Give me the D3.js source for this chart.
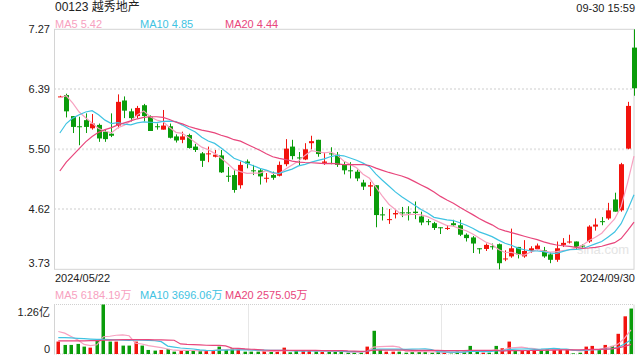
<!DOCTYPE html>
<html>
<head>
<meta charset="utf-8">
<script src="https://cdn.jsdelivr.net/npm/d3@7/dist/d3.min.js"></script>
<style>
  html, body { margin: 0; padding: 0; background: #fff; }
  svg { display: block; font-family: Arial, "Liberation Sans", "Noto Sans CJK SC", sans-serif; }
</style>
</head>
<body>
<div class="kline"></div>
<script>
// Daily candles 2024/05/22 - 2024/09/30
const opens = [6.28, 6.30, 5.99, 5.84, 5.93, 5.81, 5.86, 5.76, 5.73, 5.85,
  6.22, 6.06, 5.99, 6.15, 5.98, 5.84, 5.79, 5.84, 5.69, 5.64,
  5.71, 5.54, 5.44, 5.43, 5.39, 5.41, 5.11, 5.12, 4.97, 5.32,
  5.19, 5.19, 5.07, 5.12, 5.11, 5.28, 5.54, 5.38, 5.35, 5.59,
  5.64, 5.30, 5.44, 5.42, 5.28, 5.19, 5.17, 5.01, 4.95, 4.97,
  4.54, 4.46, 4.54, 4.57, 4.57, 4.58, 4.51, 4.44, 4.41, 4.35,
  4.33, 4.41, 4.38, 4.24, 4.20, 4.04, 4.03, 4.07, 4.10, 3.88,
  3.92, 4.06, 3.92, 4.00, 4.03, 4.01, 3.95, 3.87, 4.09, 4.13,
  4.14, 4.08, 4.14, 4.36, 4.44, 4.48, 4.76, 4.60, 5.51, 7.00];
const highs = [6.29, 6.32, 5.99, 5.98, 6.03, 6.02, 5.88, 5.79, 6.03, 6.31,
  6.28, 6.10, 6.14, 6.17, 6.00, 5.88, 6.08, 5.88, 5.72, 5.76,
  5.73, 5.58, 5.46, 5.54, 5.49, 5.49, 5.24, 5.19, 5.32, 5.35,
  5.27, 5.21, 5.15, 5.17, 5.32, 5.65, 5.64, 5.46, 5.59, 5.70,
  5.64, 5.45, 5.53, 5.46, 5.32, 5.31, 5.20, 5.05, 5.02, 4.97,
  4.65, 4.62, 4.62, 4.65, 4.66, 4.73, 4.58, 4.47, 4.43, 4.35,
  4.38, 4.46, 4.46, 4.26, 4.22, 4.04, 4.11, 4.11, 4.11, 4.01,
  4.33, 4.06, 4.16, 4.07, 4.11, 4.06, 3.98, 4.14, 4.19, 4.24,
  4.14, 4.10, 4.38, 4.48, 4.50, 4.71, 4.86, 5.30, 6.20, 7.27];
const lows = [6.27, 5.97, 5.74, 5.56, 5.74, 5.79, 5.61, 5.61, 5.68, 5.81,
  5.96, 5.91, 5.96, 5.91, 5.77, 5.79, 5.79, 5.66, 5.60, 5.59,
  5.51, 5.46, 5.24, 5.31, 5.38, 5.15, 5.02, 4.86, 4.92, 5.22,
  5.12, 4.98, 5.01, 5.05, 5.10, 5.25, 5.35, 5.26, 5.34, 5.50,
  5.39, 5.27, 5.28, 5.24, 5.13, 5.07, 5.03, 4.90, 4.81, 4.35,
  4.45, 4.40, 4.48, 4.50, 4.45, 4.47, 4.38, 4.38, 4.31, 4.25,
  4.31, 4.36, 4.22, 4.14, 3.97, 3.96, 4.00, 4.02, 3.73, 3.85,
  3.90, 3.89, 3.90, 3.97, 4.01, 3.90, 3.82, 3.84, 4.06, 4.11,
  4.02, 4.05, 4.12, 4.30, 4.38, 4.46, 4.58, 4.58, 5.50, 6.29];
const closes = [6.28, 6.06, 5.83, 5.83, 5.83, 5.88, 5.66, 5.65, 5.70, 6.20,
  6.07, 5.96, 6.11, 5.99, 5.77, 5.83, 5.85, 5.67, 5.63, 5.69,
  5.52, 5.49, 5.33, 5.44, 5.42, 5.16, 5.10, 4.90, 5.27, 5.29,
  5.18, 5.10, 5.08, 5.08, 5.27, 5.51, 5.40, 5.37, 5.50, 5.62,
  5.43, 5.32, 5.43, 5.27, 5.19, 5.18, 5.07, 4.95, 4.97, 4.53,
  4.53, 4.47, 4.56, 4.56, 4.56, 4.56, 4.42, 4.43, 4.34, 4.34,
  4.34, 4.38, 4.24, 4.19, 4.11, 4.03, 4.09, 4.06, 3.82, 3.89,
  4.04, 3.95, 4.00, 4.04, 4.08, 3.92, 3.87, 4.04, 4.12, 4.14,
  4.06, 4.07, 4.36, 4.39, 4.43, 4.60, 4.58, 5.28, 6.14, 6.40];
// Daily volume, unit 万
const volumes = [3160, 2310, 2310, 2570, 1880, 1620, 3340, 12600, 3160, 3160,
  2140, 2140, 3160, 2140, 1030, 860, 1030, 1290, 600, 860,
  860, 860, 860, 860, 860, 1880, 1030, 1460, 1200, 600,
  600, 600, 770, 600, 770, 1620, 430, 770, 770, 770,
  770, 600, 600, 600, 600, 340, 340, 340, 1880, 5910,
  1030, 600, 600, 600, 340, 770, 600, 600, 340, 600,
  340, 100, 600, 600, 2060, 600, 340, 340, 2060, 1460,
  3160, 1030, 1030, 770, 1030, 1030, 1200, 1460, 1030, 1030,
  170, 340, 1880, 2060, 1030, 2310, 2060, 5140, 9590, 11570];

// Moving average values at the left edge (window reaches before the first candle)
const ma5Head = [6.26, 6.29, 6.18, 6.05];
const ma10Head = [5.74, 5.88, 5.96, 6.01, 6.05, 6.07, 6.01, 5.93, 5.88];
const ma20Head = [5.18, 5.31, 5.41, 5.51, 5.61, 5.69, 5.75, 5.79, 5.82, 5.86,
  5.89, 5.92, 5.95, 5.97, 5.98, 5.98, 5.97, 5.94, 5.90];
const vma5Head = [5730, 5310, 4450, 3600];
const vma10Head = [4190, 4190, 4100, 4000, 3900, 3800, 3700, 3700, 3650];
const vma20Head = [3340, 3340, 3350, 3350, 3360, 3380, 3400, 3500, 3550, 3600,
  3650, 3650, 3650, 3650, 3650, 3600, 3600, 3550, 3500];

// Labels
const titleText = "00123 越秀地产";
const timeText = "09-30 15:59";
const priceTicks = [7.27, 6.39, 5.50, 4.62, 3.73];
const volTickLabels = ["1.26亿", "0"];
const volMax = 12600;
const dateLabels = ["2024/05/22", "2024/09/30"];
const maNames = ["MA5", "MA10", "MA20"];
const maPriceText = ["5.42", "4.85", "4.44"];
const maVolText = ["6184.19万", "3696.06万", "2575.05万"];
const maColors = ["#f7a1c0", "#3fc3e2", "#e8467c"];

const UP = "#f2130d";
const DOWN = "#0a9c0a";

/**
 * Moving average: picture values for the head, mean of the window after it
 */
function movingAvg(values, period, head)
{
  return values.map((v, i) => i < head.length ? head[i] : d3.mean(values.slice(i - period + 1, i + 1)));
}

class KLine
{
  constructor()
  {
    this._width = 640;
    this._height = 360;
    this._left = 54;
    this._right = 634;
    this._priceTop = 29.3;
    this._priceBottom = 269.3;
    this._volTop = 304.5;
    this._volBottom = 354;
    this._svg = null;
  }

  render()
  {
    this._svg = d3.select(".kline").append("svg")
      .attr("width", this._width)
      .attr("height", this._height);

    const n = closes.length;
    this._x = d3.scaleLinear().domain([0, n - 1]).range([59.85, 634]);
    this._xv = d3.scaleLinear().domain([0, n - 1]).range([58.3, 631]);
    this._y = d3.scaleLinear().domain([priceTicks[4], priceTicks[0]]).range([this._priceBottom, this._priceTop]);
    this._yv = d3.scaleLinear().domain([0, volMax]).range([this._volBottom, this._volTop]);

    this._frames();
    this._texts();
    this._candles();
    this._volumes();
  }

  _frames()
  {
    const svg = this._svg;
    const grid = "#e6e6e6";

    // Price gridlines (dotted)
    svg.append("g").selectAll("line")
      .data(priceTicks.slice(1, 4))
      .join("line")
      .attr("x1", this._left).attr("x2", this._right)
      .attr("y1", d => this._y(d)).attr("y2", d => this._y(d))
      .attr("stroke", grid).attr("stroke-width", 2).attr("stroke-dasharray", "2,2");

    // Price frame
    svg.append("rect")
      .attr("x", this._left + 0.5).attr("y", this._priceTop)
      .attr("width", this._right - this._left - 0.5).attr("height", this._priceBottom - this._priceTop)
      .attr("fill", "none").attr("stroke", "#d4d4d4");

    // Volume frame: dotted top/bottom, solid sides
    [this._volTop, this._volBottom].forEach(yy => {
      svg.append("line")
        .attr("x1", this._left).attr("x2", this._right)
        .attr("y1", yy).attr("y2", yy)
        .attr("stroke", "#d0d0d0").attr("stroke-dasharray", "1,1");
    });
    [this._left + 0.5, this._right].forEach(xx => {
      svg.append("line")
        .attr("x1", xx).attr("x2", xx)
        .attr("y1", this._volTop).attr("y2", this._volBottom)
        .attr("stroke", "#d4d4d4");
    });
    // Dividers every 30 candles
    [30, 60].forEach(i => {
      const xx = Math.round(this._xv(i - 0.5)) + 0.5;
      svg.append("line")
        .attr("x1", xx).attr("x2", xx)
        .attr("y1", this._volTop).attr("y2", this._volBottom)
        .attr("stroke", "#cfcfcf").attr("stroke-dasharray", "1,1");
    });
  }

  _texts()
  {
    const svg = this._svg;

    svg.append("text").attr("x", 55).attr("y", 11)
      .attr("font-size", 12).attr("fill", "#222").text(titleText);
    svg.append("text").attr("x", 635).attr("y", 12).attr("text-anchor", "end")
      .attr("font-size", 11).attr("fill", "#222").text(timeText);

    // Price axis labels
    svg.append("g").selectAll("text")
      .data(priceTicks)
      .join("text")
      .attr("x", 50)
      .attr("y", (d, i) => this._y(d) + (i === priceTicks.length - 1 ? -2 : 4))
      .attr("text-anchor", "end").attr("font-size", 11).attr("fill", "#222")
      .text(d => d.toFixed(2));

    // Volume axis labels
    svg.append("text").attr("x", 50).attr("y", this._volTop + 11.5)
      .attr("text-anchor", "end").attr("font-size", 11).attr("fill", "#222").text(volTickLabels[0]);
    svg.append("text").attr("x", 50).attr("y", this._volBottom - 1.5)
      .attr("text-anchor", "end").attr("font-size", 11).attr("fill", "#222").text(volTickLabels[1]);

    // Dates
    svg.append("text").attr("x", 55).attr("y", 281.5)
      .attr("font-size", 11).attr("fill", "#222").text(dateLabels[0]);
    svg.append("text").attr("x", 635).attr("y", 281.5).attr("text-anchor", "end")
      .attr("font-size", 11).attr("fill", "#222").text(dateLabels[1]);

    // MA legends
    const legX = [55, 140, 225];
    maNames.forEach((name, i) => {
      svg.append("text").attr("x", legX[i]).attr("y", 28)
        .attr("font-size", 11).attr("fill", maColors[i]).text(name + " " + maPriceText[i]);
      svg.append("text").attr("x", legX[i]).attr("y", 299)
        .attr("font-size", 11).attr("fill", maColors[i]).text(name + " " + maVolText[i]);
    });

    // Watermark
    svg.append("text").attr("x", 603).attr("y", 254).attr("text-anchor", "middle")
      .attr("font-size", 13).attr("fill", "#e4e4e4").text("sina.com");
  }

  _candles()
  {
    const svg = this._svg;
    const idx = d3.range(closes.length);
    const color = i => closes[i] >= opens[i] ? UP : DOWN;

    const ma = [
      movingAvg(closes, 5, ma5Head),
      movingAvg(closes, 10, ma10Head),
      movingAvg(closes, 20, ma20Head)
    ];
    const line = d3.line().x((d, i) => this._x(i)).y(d => this._y(d));

    const g = svg.append("g");

    // Wicks
    g.selectAll("line.wick")
      .data(idx)
      .join("line")
      .attr("class", "wick")
      .attr("x1", i => Math.round(this._x(i)) + 0.5).attr("x2", i => Math.round(this._x(i)) + 0.5)
      .attr("y1", i => this._y(highs[i])).attr("y2", i => this._y(lows[i]))
      .attr("stroke", color);

    // Bodies
    g.selectAll("rect.body")
      .data(idx)
      .join("rect")
      .attr("class", "body")
      .attr("x", i => Math.round(this._x(i)) - 2)
      .attr("width", 5)
      .attr("y", i => this._y(Math.max(opens[i], closes[i])))
      .attr("height", i => Math.max(1, Math.abs(this._y(opens[i]) - this._y(closes[i]))))
      .attr("fill", color);

    // MA lines
    ma.forEach((vals, k) => {
      svg.append("path")
        .datum(vals)
        .attr("d", line)
        .attr("fill", "none")
        .attr("stroke", maColors[k])
        .attr("stroke-width", 1.2);
    });
  }

  _volumes()
  {
    const svg = this._svg;
    const idx = d3.range(volumes.length);
    const color = i => closes[i] >= opens[i] ? UP : DOWN;

    svg.append("g").selectAll("rect")
      .data(idx)
      .join("rect")
      .attr("x", i => Math.round(this._xv(i)) - 1.5)
      .attr("width", 3.5)
      .attr("y", i => this._yv(volumes[i]))
      .attr("height", i => this._volBottom - this._yv(volumes[i]))
      .attr("fill", color);

    const vma = [
      movingAvg(volumes, 5, vma5Head),
      movingAvg(volumes, 10, vma10Head),
      movingAvg(volumes, 20, vma20Head)
    ];
    const line = d3.line().x((d, i) => this._xv(i)).y(d => this._yv(d));
    vma.forEach((vals, k) => {
      svg.append("path")
        .datum(vals)
        .attr("d", line)
        .attr("fill", "none")
        .attr("stroke", maColors[k])
        .attr("stroke-width", 1.2);
    });
  }
}

new KLine().render();
</script>
</body>
</html>
